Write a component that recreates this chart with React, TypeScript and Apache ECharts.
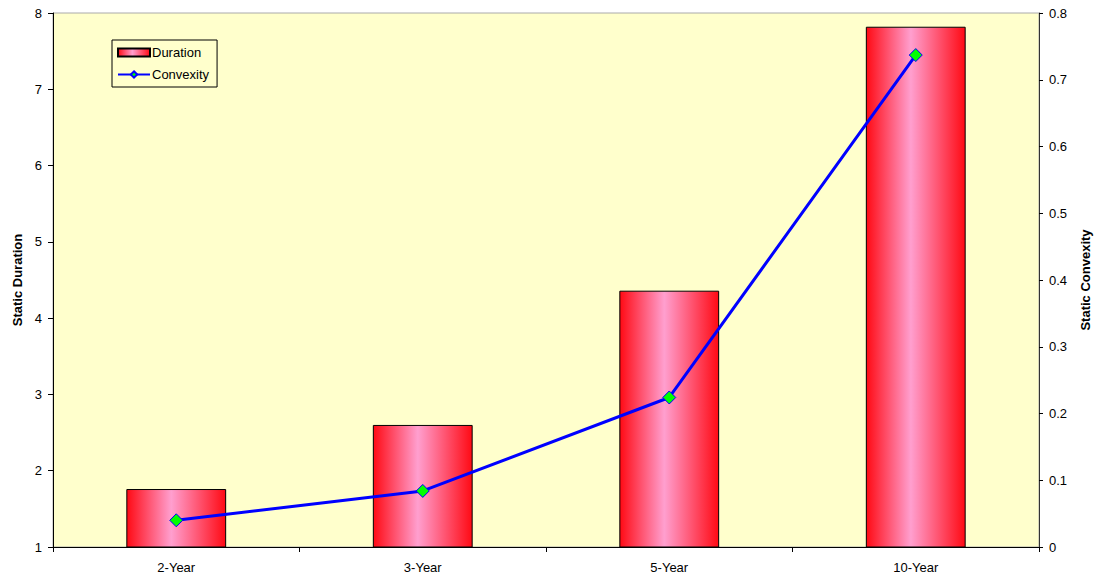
import React, { useEffect, useRef } from "react";
import * as echarts from "echarts";

const categories = ["2-Year", "3-Year", "5-Year", "10-Year"];
const durationValues = [1.76, 2.6, 4.36, 7.82];
const convexityValues = [0.04, 0.084, 0.224, 0.737];

export default function App() {
  const ref = useRef<HTMLDivElement>(null);
  useEffect(() => {
    if (!ref.current) return;
    const chart = echarts.init(ref.current, undefined, { renderer: "svg" });
    const font = "'Liberation Sans', Arial, sans-serif";
    const barGrad = new echarts.graphic.LinearGradient(0, 0, 1, 0, [
      { offset: 0, color: "#ff0a14" },
      { offset: 0.45, color: "#ff9fcf" },
      { offset: 1, color: "#ff0a14" },
    ]);
    chart.setOption({
      animation: false,
      backgroundColor: "#ffffff",
      textStyle: { fontFamily: font },
      grid: {
        left: 53,
        right: 57,
        top: 13,
        bottom: 31,
        outerBoundsMode: "none",
        containLabel: false,
        show: true,
        backgroundColor: "#ffffcc",
        borderColor: "#aaaaaa",
        borderWidth: 1,
      },
      legend: {
        orient: "vertical",
        left: 112,
        top: 40,
        padding: [6, 8, 6, 5],
        itemGap: 9,
        itemWidth: 32,
        itemHeight: 8,
        borderColor: "#000",
        borderWidth: 1,
        backgroundColor: "transparent",
        textStyle: { fontFamily: font, fontSize: 13, color: "#000", padding: [0, 0, 0, -3] },
        data: [
          { name: "Duration", icon: "rect" },
          { name: "Convexity" },
        ],
      },
      xAxis: {
        type: "category",
        data: categories,
        boundaryGap: true,
        axisLine: { lineStyle: { color: "#000", width: 1 } },
        axisTick: { show: true, length: 5, lineStyle: { color: "#000" } },
        axisLabel: { color: "#000", fontSize: 13, margin: 14, fontFamily: font },
      },
      yAxis: [
        {
          type: "value",
          min: 1,
          max: 8,
          interval: 1,
          position: "left",
          name: "Static Duration",
          nameLocation: "middle",
          nameGap: 29,
          nameRotate: 90,
          nameTextStyle: { fontWeight: "bold", fontSize: 13, color: "#000", fontFamily: font },
          axisLine: { show: true, lineStyle: { color: "#000" } },
          axisTick: { show: true, length: 5, lineStyle: { color: "#000" } },
          axisLabel: { color: "#000", fontSize: 13, margin: 11, fontFamily: font },
          splitLine: { show: false },
        },
        {
          type: "value",
          min: 0,
          max: 0.8,
          interval: 0.1,
          position: "right",
          name: "Static Convexity",
          nameLocation: "middle",
          nameGap: 40,
          nameRotate: 90,
          nameTextStyle: { fontWeight: "bold", fontSize: 13, color: "#000", fontFamily: font },
          axisLine: { show: true, lineStyle: { color: "#333" } },
          axisTick: { show: true, length: 4, lineStyle: { color: "#000" } },
          axisLabel: { color: "#000", fontSize: 13, margin: 10, fontFamily: font },
          splitLine: { show: false },
        },
      ],
      series: [
        {
          name: "Duration",
          type: "bar",
          yAxisIndex: 0,
          data: durationValues,
          barWidth: "40.5%",
          itemStyle: { color: barGrad, borderColor: "#000", borderWidth: 1 },
        },
        {
          name: "Convexity",
          type: "line",
          yAxisIndex: 1,
          data: convexityValues,
          symbol: "diamond",
          symbolSize: 13,
          lineStyle: { color: "#0000ff", width: 3 },
          itemStyle: { color: "#00ff00", borderColor: "#0000ff", borderWidth: 1 },
        },
      ],
    });
    return () => chart.dispose();
  }, []);
  return (
    <div
      ref={ref}
      style={{ position: "fixed", left: 0, top: 0, width: 1096, height: 578 }}
    />
  );
}
